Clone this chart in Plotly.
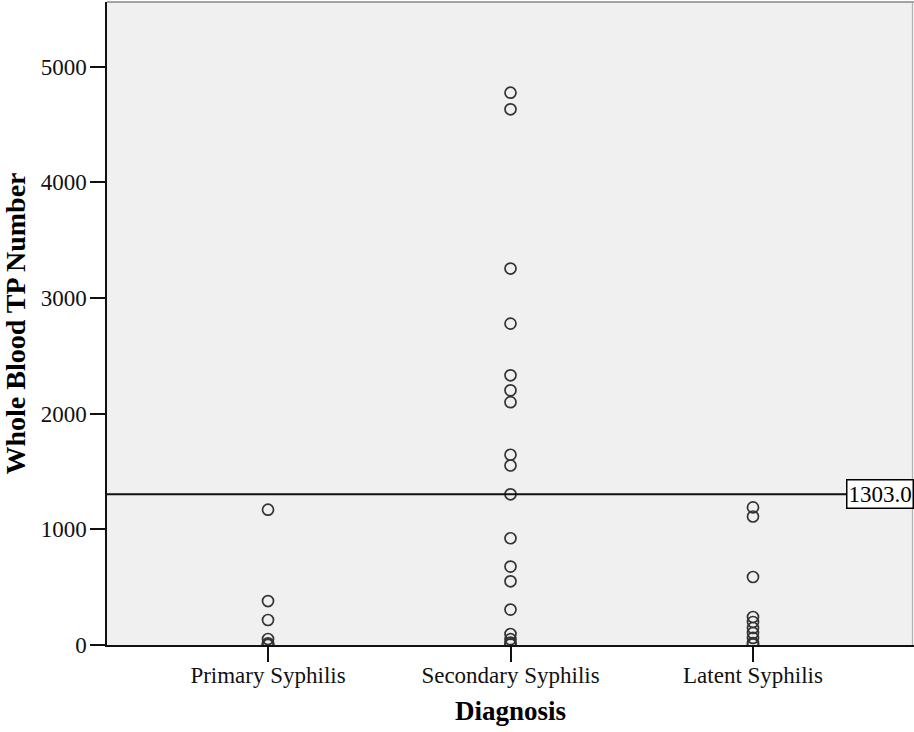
import plotly.graph_objects as go

# Diagnosis groups and whole blood TP counts per patient
categories = ["Primary Syphilis", "Secondary Syphilis", "Latent Syphilis"]
primary = [1170, 380, 216, 52, 15, 5, 0]
secondary = [4776, 4632, 3255, 2779, 2332, 2202, 2100, 1645, 1552, 1303,
             923, 678, 551, 306, 95, 50, 20, 5]
latent = [1190, 1111, 588, 242, 199, 147, 104, 61, 17, 5]
reference_value = 1303.0
y_ticks = [0, 1000, 2000, 3000, 4000, 5000]

groups = [primary, secondary, latent]

fig = go.Figure()
for i, vals in enumerate(groups):
    fig.add_trace(go.Scatter(
        x=[i] * len(vals),
        y=vals,
        mode="markers",
        marker=dict(symbol="circle-open", size=11, color="#333333",
                    line=dict(width=1.7, color="#333333")),
        showlegend=False,
        hoverinfo="y",
    ))

serif = "Liberation Serif, Times New Roman, serif"

# horizontal reference line with its value box at the right edge
fig.add_shape(type="line", xref="paper", x0=0, x1=1, yref="y",
              y0=reference_value, y1=reference_value,
              line=dict(color="#111111", width=2), layer="above")
fig.add_annotation(xref="paper", x=0.9157, xanchor="left", yref="y",
                   y=reference_value, yanchor="middle",
                   text=f"{reference_value:.1f}", showarrow=False,
                   font=dict(family=serif, size=23, color="black"),
                   bgcolor="white", bordercolor="black", borderwidth=1.5,
                   borderpad=1)

# gray frame lines along the top and right of the plot area
fig.add_shape(type="line", xref="paper", yref="paper", x0=0, x1=1, y0=1, y1=1,
              line=dict(color="#888888", width=1.5))
fig.add_shape(type="line", xref="paper", yref="paper", x0=0.998, x1=0.998,
              y0=0, y1=1, line=dict(color="#aaaaaa", width=1))

fig.update_layout(
    width=914, height=732,
    margin=dict(l=107, r=0, t=2, b=87),
    paper_bgcolor="white",
    plot_bgcolor="#f0f0f0",
    font=dict(family=serif, size=23, color="#111111"),
    xaxis=dict(
        range=[-0.664, 2.664],
        tickmode="array", tickvals=[0, 1, 2], ticktext=categories,
        ticks="outside", ticklen=15, tickwidth=1.5, tickcolor="#111111",
        ticklabelstandoff=-6,
        showline=True, linecolor="#111111", linewidth=1.5,
        showgrid=False, zeroline=False,
        tickfont=dict(family=serif, size=23, color="#111111"),
        title=dict(text="<b>Diagnosis</b>", standoff=14,
                   font=dict(family=serif, size=27, color="black")),
    ),
    yaxis=dict(
        range=[0, 5560],
        tickmode="array", tickvals=y_ticks,
        ticks="outside", ticklen=15, tickwidth=1.5, tickcolor="#111111",
        ticklabelstandoff=-1,
        showline=True, linecolor="#111111", linewidth=1.5,
        showgrid=False, zeroline=False,
        tickfont=dict(family=serif, size=23, color="#111111"),
        title=dict(text="<b>Whole Blood TP Number</b>", standoff=9,
                   font=dict(family=serif, size=28, color="black")),
    ),
)

fig.write_html("out.html")
